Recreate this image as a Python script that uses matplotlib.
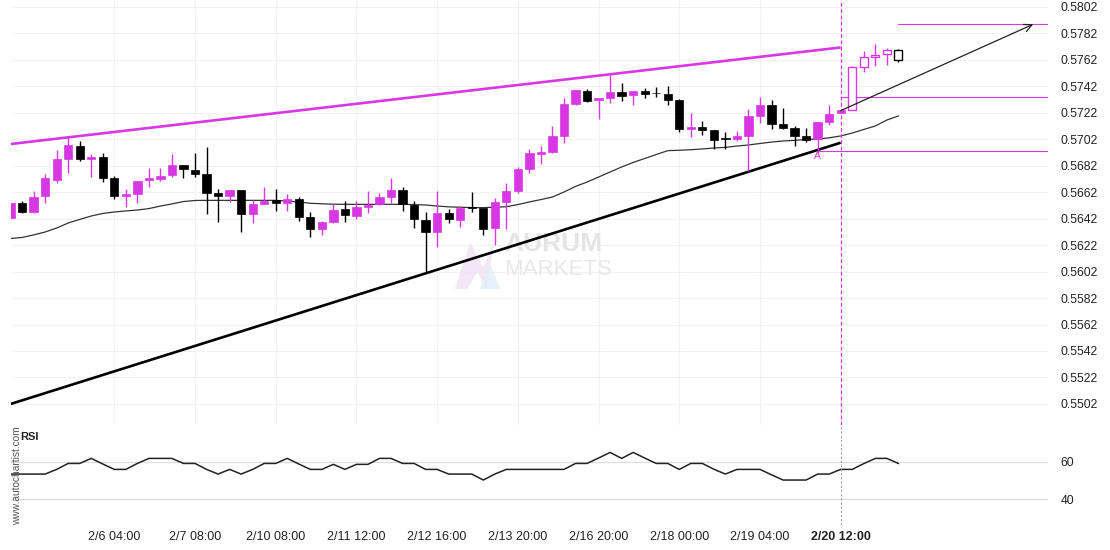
import matplotlib
matplotlib.use('Agg')
import matplotlib.pyplot as plt
from matplotlib.patches import Polygon

plt.rcParams['font.family'] = ['Liberation Sans', 'DejaVu Sans']

MAGENTA = '#d838e3'

# 4h candles (price units)
opens = [0.56426, 0.56537, 0.56471, 0.56592, 0.56711, 0.56869, 0.56967, 0.56871, 0.56884, 0.56726,
         0.56592, 0.56607, 0.56711, 0.56718, 0.56746, 0.56824, 0.56786, 0.56756, 0.56613, 0.56592,
         0.56635, 0.56454, 0.56532, 0.56557, 0.56539, 0.56567, 0.56431, 0.56343, 0.56396, 0.56492,
         0.56441, 0.56509, 0.56527, 0.56582, 0.56635, 0.56520, 0.56406, 0.56320, 0.56462, 0.56409,
         0.56509, 0.56497, 0.56351, 0.56547, 0.56630, 0.56796, 0.56907, 0.56924, 0.57043, 0.57287,
         0.57382, 0.57312, 0.57332, 0.57375, 0.57354, 0.57382, 0.57370, 0.57360, 0.57314, 0.57096,
         0.57108, 0.57088, 0.57028, 0.57020, 0.57043, 0.57196, 0.57277, 0.57133, 0.57103, 0.57043,
         0.57018, 0.57148, 0.57219, 0.57237, 0.57561, 0.57639, 0.57659, 0.57692]
highs = [0.56537, 0.56552, 0.56628, 0.56758, 0.56937, 0.57033, 0.57005, 0.56907, 0.56912, 0.56741,
         0.56640, 0.56703, 0.56799, 0.56799, 0.56907, 0.56824, 0.56912, 0.56957, 0.56640, 0.56635,
         0.56635, 0.56560, 0.56656, 0.56640, 0.56605, 0.56580, 0.56467, 0.56401, 0.56527, 0.56550,
         0.56550, 0.56625, 0.56610, 0.56723, 0.56656, 0.56550, 0.56467, 0.56630, 0.56490, 0.56514,
         0.56622, 0.56497, 0.56573, 0.56690, 0.56806, 0.56942, 0.56967, 0.57118, 0.57327, 0.57390,
         0.57395, 0.57330, 0.57503, 0.57440, 0.57382, 0.57403, 0.57415, 0.57418, 0.57324, 0.57214,
         0.57154, 0.57088, 0.57075, 0.57083, 0.57244, 0.57335, 0.57312, 0.57252, 0.57120, 0.57101,
         0.57146, 0.57274, 0.57239, 0.57573, 0.57684, 0.57735, 0.57705, 0.57699]
lows = [0.56426, 0.56464, 0.56459, 0.56535, 0.56690, 0.56761, 0.56856, 0.56736, 0.56693, 0.56565,
        0.56509, 0.56535, 0.56660, 0.56705, 0.56731, 0.56723, 0.56731, 0.56454, 0.56396, 0.56542,
        0.56316, 0.56384, 0.56530, 0.56479, 0.56479, 0.56399, 0.56283, 0.56293, 0.56384, 0.56396,
        0.56414, 0.56464, 0.56520, 0.56535, 0.56479, 0.56346, 0.56006, 0.56203, 0.56388, 0.56358,
        0.56471, 0.56296, 0.56220, 0.56341, 0.56610, 0.56761, 0.56829, 0.56912, 0.56992, 0.57279,
        0.57297, 0.57169, 0.57294, 0.57309, 0.57274, 0.57327, 0.57335, 0.57278, 0.57071, 0.57033,
        0.57048, 0.56947, 0.56947, 0.57003, 0.56779, 0.57143, 0.57093, 0.57098, 0.56967, 0.56995,
        0.56909, 0.57126, 0.57216, 0.57237, 0.57528, 0.57573, 0.57579, 0.57599]
closes = [0.56537, 0.56471, 0.56582, 0.56726, 0.56869, 0.56975, 0.56869, 0.56887, 0.56726, 0.56592,
          0.56607, 0.56703, 0.56726, 0.56741, 0.56824, 0.56796, 0.56758, 0.56615, 0.56592, 0.56635,
          0.56454, 0.56530, 0.56554, 0.56539, 0.56567, 0.56434, 0.56343, 0.56394, 0.56484, 0.56449,
          0.56507, 0.56520, 0.56582, 0.56635, 0.56527, 0.56416, 0.56320, 0.56462, 0.56416, 0.56502,
          0.56499, 0.56341, 0.56542, 0.56628, 0.56794, 0.56914, 0.56922, 0.57043, 0.57284, 0.57390,
          0.57309, 0.57330, 0.57375, 0.57347, 0.57382, 0.57362, 0.57365, 0.57317, 0.57098, 0.57108,
          0.57088, 0.57012, 0.57023, 0.57043, 0.57194, 0.57277, 0.57136, 0.57105, 0.57045, 0.57010,
          0.57146, 0.57209, 0.57237, 0.57561, 0.57637, 0.57652, 0.57690, 0.57614]
ma = [0.56269, 0.56277, 0.56296, 0.56318, 0.56348, 0.56386, 0.56413, 0.56439, 0.56458, 0.56469,
      0.56477, 0.56484, 0.56495, 0.56514, 0.56530, 0.56548, 0.56556, 0.56557, 0.56557, 0.56557,
      0.56557, 0.56557, 0.56557, 0.56557, 0.56552, 0.56545, 0.56535, 0.56531, 0.56528, 0.56527,
      0.56527, 0.56527, 0.56527, 0.56527, 0.56527, 0.56525, 0.56522, 0.56514, 0.56508, 0.56505,
      0.56502, 0.56502, 0.56505, 0.56509, 0.56525, 0.56545, 0.56563, 0.56582, 0.56620, 0.56662,
      0.56695, 0.56733, 0.56771, 0.56809, 0.56843, 0.56873, 0.56903, 0.56932, 0.56935, 0.56939,
      0.56945, 0.56952, 0.56957, 0.56967, 0.56975, 0.56986, 0.56997, 0.57005, 0.57010, 0.57016,
      0.57020, 0.57029, 0.57043, 0.57065, 0.57092, 0.57118, 0.57163, 0.57194]
rsi = [53.4, 53.4, 53.4, 53.4, 55.9, 59.1, 59.1, 61.8, 58.8, 55.9,
       55.9, 59.1, 61.8, 61.8, 61.8, 59.1, 59.1, 55.9, 53.4, 55.9,
       53.4, 55.9, 59.1, 59.1, 61.8, 58.8, 55.9, 55.9, 58.6, 55.9,
       58.6, 58.6, 61.8, 61.8, 59.1, 59.1, 55.9, 55.9, 53.4, 53.4,
       53.4, 50.2, 53.4, 55.9, 55.9, 55.9, 55.9, 55.9, 55.9, 59.1,
       59.1, 62.0, 65.0, 61.8, 65.0, 62.0, 59.1, 59.1, 55.9, 59.1,
       59.1, 56.0, 53.4, 55.9, 55.9, 55.9, 53.0, 50.2, 50.2, 50.2,
       53.4, 53.4, 55.9, 55.9, 59.0, 61.8, 61.8, 59.1]

first_hollow = 73
signal_idx = 72

tick_idx = [9, 16, 23, 30, 37, 44, 51, 58, 65, 72]
tick_labels = ['2/6 04:00', '2/7 08:00', '2/10 08:00', '2/11 12:00', '2/12 16:00',
               '2/13 20:00', '2/16 20:00', '2/18 00:00', '2/19 04:00', '2/20 12:00']
price_ticks = [0.5502 + 0.002 * i for i in range(16)]

# pattern lines
upper_trend = ([0, 72], [0.56982, 0.57711])
lower_trend = ([0, 72], [0.55020, 0.56992])
level_hi = (77, 0.57888)
level_mid = (72, 0.57335)
level_lo = (70, 0.56933)
arrow_start = (72, 0.57234)
arrow_end = (88.7, 0.57886)
point_a = (70, 0.56892)

fig = plt.figure(figsize=(11.1, 5.5), dpi=100)
ax = fig.add_axes([11 / 1110, 125 / 550, 1037 / 1110, 425 / 550])
rax = fig.add_axes([11 / 1110, 25 / 550, 1037 / 1110, 100 / 550])

xmin, xmax = 0.04, 89.98
ax.set_xlim(xmin, xmax)
ax.set_ylim(0.548615, 0.580691)
rax.set_xlim(xmin, xmax)
rax.set_ylim(26.1, 79.7)

for a in (ax, rax):
    for s in a.spines.values():
        s.set_visible(False)

# grid
for t in price_ticks:
    ax.axhline(t, color='#f2f2f2', lw=0.8, zorder=0)
for t in tick_idx:
    ax.axvline(t, color='#f2f2f2', lw=0.8, zorder=0)

# watermark
ax.text(0.476, 0.425, 'AURUM', transform=ax.transAxes, fontsize=19, fontweight='bold',
        color='#e4e4e4', ha='left', va='center', zorder=0)
ax.text(0.476, 0.365, 'MARKETS', transform=ax.transAxes, fontsize=16,
        color='#e8e8e8', ha='left', va='center', zorder=0)
logo = Polygon([[0.428, 0.32], [0.443, 0.43], [0.455, 0.37], [0.466, 0.43], [0.458, 0.32],
                [0.450, 0.36], [0.440, 0.32]], closed=True, transform=ax.transAxes,
               facecolor='#efe0f5', edgecolor='none', alpha=0.8, zorder=0)
ax.add_patch(logo)
logo2 = Polygon([[0.452, 0.32], [0.462, 0.38], [0.472, 0.32]], closed=True, transform=ax.transAxes,
                facecolor='#e2eef8', edgecolor='none', alpha=0.8, zorder=0)
ax.add_patch(logo2)

# trend lines
ax.plot(*upper_trend, color=MAGENTA, lw=1.9, zorder=1, solid_capstyle='butt')
ax.plot(*lower_trend, color='black', lw=1.9, zorder=1, solid_capstyle='butt')

# moving average
ax.plot(range(len(ma)), ma, color='#333333', lw=0.9, zorder=1)

# candles
w = 0.72
for i in range(len(opens)):
    o, h, l, c = opens[i], highs[i], lows[i], closes[i]
    up = c >= o
    col = MAGENTA if up else 'black'
    ax.vlines(i, l, h, color=col, lw=1.0, zorder=2)
    bottom = min(o, c)
    height = max(abs(c - o), 0.00003)
    if i >= first_hollow:
        ax.bar(i, height, bottom=bottom, width=w, facecolor='white', edgecolor=col,
               lw=1.0, zorder=3)
    else:
        ax.bar(i, height, bottom=bottom, width=w, color=col, edgecolor=col, lw=0.5, zorder=3)

# levels
ax.plot([level_hi[0], xmax], [level_hi[1]] * 2, color=MAGENTA, lw=0.8, zorder=1)
ax.plot([level_mid[0], xmax], [level_mid[1]] * 2, color=MAGENTA, lw=0.8, zorder=1)
ax.plot([level_lo[0], xmax], [level_lo[1]] * 2, color=MAGENTA, lw=0.8, zorder=1)
ax.axvline(signal_idx, color=MAGENTA, lw=0.9, ls=(0, (3, 2)), zorder=1)
ax.text(point_a[0], point_a[1], 'A', color=MAGENTA, fontsize=7.5, ha='center', va='center')

ax.annotate('', xy=arrow_end, xytext=arrow_start,
            arrowprops=dict(arrowstyle='->', color='#222222', lw=0.9, mutation_scale=14,
                            shrinkA=0, shrinkB=0), zorder=4)

# price axis
ax.yaxis.tick_right()
ax.set_yticks(price_ticks)
ax.set_yticklabels(['%.4f' % t for t in price_ticks])
ax.tick_params(axis='y', length=0, pad=9, labelsize=8.8, labelcolor='#222222')
ax.set_xticks([])

# RSI panel
rax.axhline(60, color='#dddddd', lw=0.9, zorder=0)
rax.axhline(40, color='#dddddd', lw=0.9, zorder=0)
rax.plot(range(len(rsi)), rsi, color='#222222', lw=1.1)
rax.axvline(signal_idx, color='#999999', lw=0.6, ls=(0, (3, 2)))
rax.yaxis.tick_right()
rax.set_yticks([40, 60])
rax.tick_params(axis='y', length=0, pad=9, labelsize=8.8, labelcolor='#222222')
rax.set_xticks(tick_idx)
rax.set_xticklabels(tick_labels)
rax.tick_params(axis='x', length=0, pad=4, labelsize=9, labelcolor='#222222')
rax.get_xticklabels()[-1].set_fontweight('bold')
rax.text(9 / 1037, 0.88, 'RSI', transform=rax.transAxes, fontsize=8, fontweight='bold',
         color='#222222', ha='left', va='center')
fig.text(17 / 1110, 0.135, 'www.autochartist.com', rotation=90, fontsize=7.3, color='#555555',
         ha='center', va='center')

fig.savefig('out.png', dpi=100)
